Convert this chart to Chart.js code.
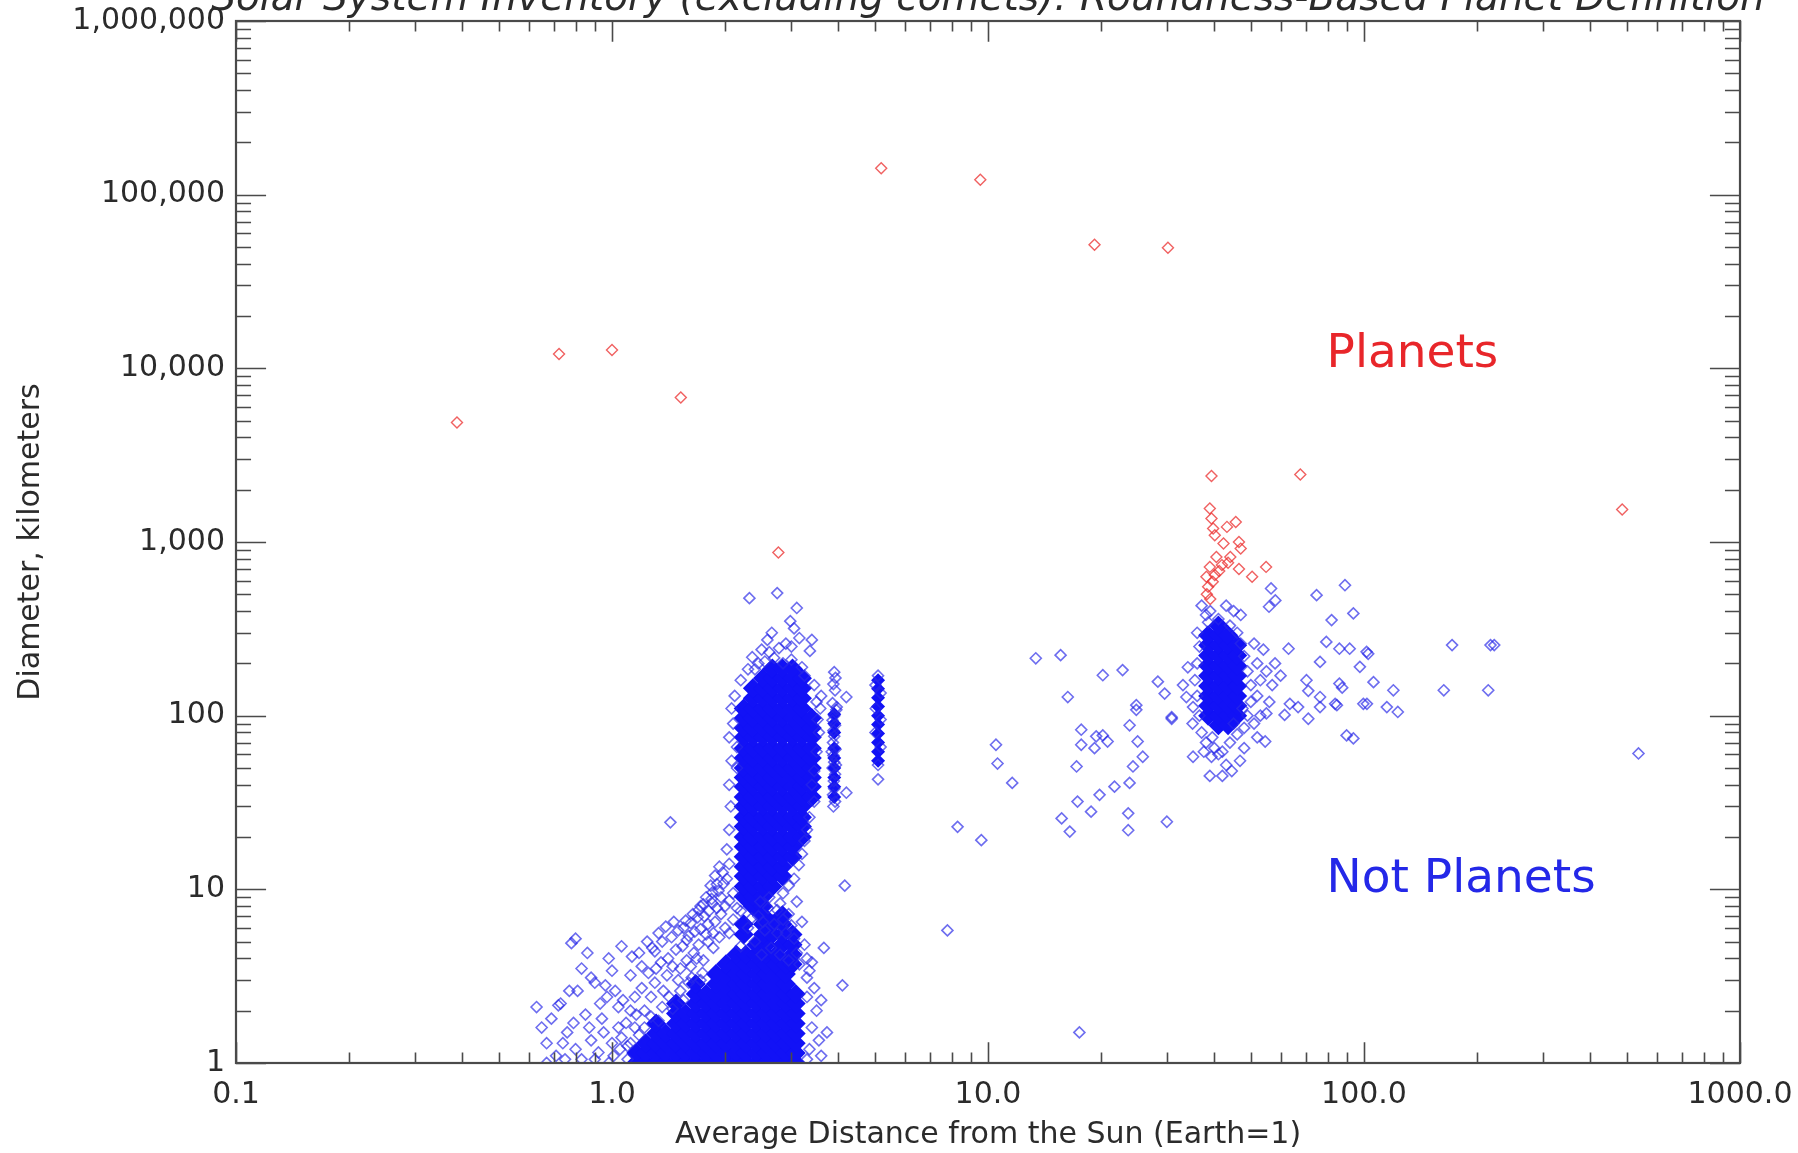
<!DOCTYPE html>
<html><head><meta charset="utf-8">
<script src="https://cdn.jsdelivr.net/npm/chart.js@4.4.1/dist/chart.umd.min.js"></script>
<style>html,body{margin:0;padding:0;background:#fff;}#wrap{width:1798px;height:1153px;}</style>
</head><body><div id="wrap"><canvas id="c" width="1798" height="1153"></canvas></div>
<script>
// ---------- tick values & labels ----------
const xTickValues = [0.1, 1, 10, 100, 1000];
const xTickLabels = ['0.1', '1.0', '10.0', '100.0', '1000.0'];
const yTickValues = [1, 10, 100, 1000, 10000, 100000, 1000000];
const yTickLabels = ['1', '10', '100', '1,000', '10,000', '100,000', '1,000,000'];
const chartTitle = 'Solar System Inventory (excluding comets): Roundness-Based Planet Definition';
const xTitle = 'Average Distance from the Sun (Earth=1)';
const yTitle = 'Diameter, kilometers';

// ---------- round objects ("Planets") [AU, km] ----------
const planets = [[0.387,4880],[0.723,12100],[1.0,12750],[1.524,6790],[2.77,870],[5.2,142000],[9.54,122000],
 [19.2,51500],[30.1,49500],[39.3,2400],[67.7,2450],[486,1540],
 [38.9,1560],[39.3,1365],[39.7,1196],[43.2,1222],[45.6,1304],[46.5,1000],[40.1,1094],[42.3,980],[47.0,916],
 [40.5,820],[44.1,820],[38.9,719],[41.9,736],[50.4,631],[54.9,719],[38.1,631],[38.5,552],[40.1,645],
 [39.6,590],[41.2,680],[43.5,760],[38.2,500],[39.0,470],[46.5,700]];

// ---------- non-round objects ("Not Planets") [AU, km] ----------
const innerScatter = [[0.63,2.1],[0.73,2.2],[0.72,2.15],[0.65,1.6],[0.67,1.3],[0.71,1.1],[0.78,4.9],[0.80,5.2],[0.98,4.0],[1.06,4.7],
 [0.81,2.6],[0.90,2.9],[0.96,2.8],[0.85,1.9],[0.87,1.6],[0.88,1.35],[1.04,2.1],[1.09,1.7],[1.20,3.6],[1.30,2.9],[1.41,4.0],
 [1.48,4.5],[1.54,4.7],[0.75,1.05],[0.80,1.2],[0.92,1.15],[0.95,1.5],[1.00,1.3],[1.02,2.6],[1.12,3.2],[1.15,2.4],[1.18,4.3],
 [1.25,3.3],[1.35,3.8],[1.10,1.25],[0.93,2.2],[0.83,3.5],[0.88,3.1],[1.00,3.4],[1.13,4.1],[1.22,2.0],[1.28,4.6],[1.60,5.4],
 [1.70,4.8],[1.45,3.6],[1.37,2.6],[1.50,3.0],[1.58,3.9],[1.65,4.3],[1.75,3.9],[1.80,5.0],[0.69,1.8],[0.76,1.5],[0.77,2.6],
 [0.86,4.3],[1.24,5.0],[1.33,5.6],[1.39,6.1],[1.46,6.5],[1.55,6.0],[1.62,6.4],[1.69,6.9],[1.81,7.5],[1.85,9.6],[1.90,10.7],
 [1.75,8.2],[1.95,9.0],[2.00,8.0],[1.90,7.8],[1.78,5.5],[2.00,6.0],[1.72,8.0],[1.78,9.0],[1.83,10.5],[1.88,12.0],[1.93,13.5],
 [1.97,12.5],[1.85,8.3],[1.43,24.3],[0.67,1.0],[0.83,1.05],[0.98,1.0],[0.90,1.05],[1.04,1.6],[1.16,1.9],[1.07,2.3],[1.20,2.7],
 [1.27,2.4],[1.31,3.5],[1.40,3.2],[1.52,3.5],[1.62,3.6],[1.68,4.0],[1.86,4.6],[1.93,5.3],[2.05,5.6],[1.58,5.1],[1.66,5.7],
 [1.30,4.4],[1.36,5.0],[1.44,5.3],[1.50,5.8],[1.57,6.6],[1.64,7.2],[1.70,7.6],[1.76,7.0],[1.84,8.8],[1.92,9.8],[1.98,10.8],
 [2.02,11.5],[1.88,6.5],[1.95,7.2],[2.05,8.6],[2.10,9.5],[1.72,5.9],[1.80,6.3],[1.86,5.6],[2.10,6.7],[2.15,7.8],[0.74,1.3],
 [0.79,1.7],[0.94,1.8],[1.01,1.1],[1.06,1.4],[0.97,2.4],[1.12,2.0],
 [1.10,1.05],[1.12,1.3],[1.18,1.45],[1.22,1.6],[1.27,1.85],[1.33,1.75],[1.36,2.1],[1.42,2.4],[1.45,2.05],[1.52,2.6],
 [1.55,2.3],[1.60,2.9],[1.63,3.1],[1.72,3.0],[1.74,3.3],[1.05,1.2],[1.15,1.6]];

const beltHalo = [[2.32,475],[2.75,508],[3.10,417],[3.05,318],[2.59,273],[3.40,273],[2.36,217],[2.62,232],[3.36,236],[2.45,200],
 [2.55,205],[2.70,215],[2.85,200],[3.00,210],[3.20,190],[2.90,260],[3.25,170],[2.50,240],[2.78,245],[3.00,250],[2.66,300],
 [3.15,280],[2.40,185],[2.98,350],[2.20,160],[2.30,185],[2.12,130],[2.08,110],[2.10,90],[2.05,75],[2.15,66],[2.08,55],[2.15,50],
 [2.05,40],[2.07,30],[2.05,22],[2.02,17],[2.05,14],[3.45,150],[3.50,120],[3.52,95],[3.55,80],[3.50,62],[3.45,48],[3.40,40],
 [3.45,32],[3.35,26],[3.30,22],[3.25,19],[3.20,16],[3.60,130],[3.58,110],[3.14,13.8],[3.05,11.5],[2.95,10.5],[2.85,9.5],
 [2.20,7.5],[2.45,7.0],[2.60,7.8],[2.95,7.2],[3.10,8.5],[3.20,6.5],[2.30,6.0],[2.55,5.8],[2.90,5.6],[3.05,5.2],[3.25,4.8],
 [2.40,5.0],[2.65,4.6],[2.80,4.2],[3.10,4.3],[3.30,4.0],[2.50,4.2],[2.20,4.7],[2.35,6.8],[3.00,6.2],[2.70,6.3],[3.15,3.7],
 [3.35,3.4],[2.95,3.9],[2.75,7.6],[2.85,6.7],[2.75,5.6],[2.52,6.5],[2.62,9.0],[2.48,8.5],[2.80,8.3],[3.66,4.6],[3.40,3.8],
 [3.30,3.1],[4.10,2.8],[3.73,1.5],[3.35,1.2],[3.40,1.6],[3.50,2.0],[3.30,2.4],[3.45,2.7],[3.60,1.1],[3.55,1.35],[3.30,1.05],[3.60,2.3]];

const hildaTrojans = [[3.90,178],[3.93,165],[3.88,152],[3.92,140],[3.86,118],[3.95,108],[3.90,100],[3.86,94],[3.92,88],[3.88,82],
 [3.90,76],[3.87,70],[3.93,64],[3.88,59],[3.90,54],[3.86,50],[3.92,46],[3.89,42],[3.90,38],[3.87,35],[3.92,32],[3.88,30],
 [4.20,128],[4.20,36],[3.96,112],[3.84,62],[3.94,52],
 [5.10,170],[5.02,150],[5.18,135],[5.03,110],[5.18,95],[5.02,80],[5.18,66],[5.10,52],[5.10,43]];

const centaurs = [[13.4,214],[15.6,223],[20.2,171],[22.8,183],[16.3,128],[24.8,115],[24.8,108],[23.8,88],[30.8,96],[17.7,83],
 [17.7,68],[19.4,76],[20.2,77],[20.8,71],[19.2,65],[25.0,71],[25.8,58],[24.3,51],[17.2,51],[10.5,68],[10.6,53],[11.6,41],
 [21.7,39],[23.8,41],[19.8,35],[17.3,32],[18.8,28],[15.7,25.6],[16.5,21.5],[23.6,27.4],[23.6,21.9],[29.9,24.5],[8.3,22.9],
 [9.6,19.2],[17.5,1.5],[7.8,5.8],[4.16,10.5]];

const kuiperHalo = [[28.3,157],[29.5,134],[30.8,98],[33.7,128],[35.1,112],[56.6,540],[58.1,461],[55.9,424],[74.8,494],[89,564],
 [93.7,388],[82,355],[79.4,266],[86,243],[91.6,243],[102.6,227],[97.5,191],[76.4,204],[106,156],[101.8,117],[84.7,115],
 [71.1,139],[63,243],[89.9,77],[93.7,74],[46.8,55],[54.6,71],[38.9,45],[171.5,255],[217,255],[222,255],[163,140],[214,140],
 [119.7,140],[99.6,117],[115,112],[123,105],[101.6,233],[83.8,117],[76.4,128],[70.3,160],[76.4,112],[71.1,96],[66.8,112],
 [63.5,117],[61.5,101],[55,103],[39.3,58],[35.1,58],[86,153],[87.5,145],[36,300],[36.5,250],[36,200],[35.5,160],[36,130],
 [36.5,100],[37,80],[38,70],[40,65],[42,62],[44,70],[46,78],[48,85],[49,100],[50,120],[50,150],[49,180],[48,220],[47,260],
 [46,300],[44,330],[41,360],[38.5,345],[52,130],[53,160],[52,200],[54,240],[51,260],[55,180],[57,150],[53,100],[56,120],
 [58,200],[60,170],[45,400],[43,430],[47,380],[39,400],[38,380],[37,430],[41,60],[43,52],[39.5,75],[45,90],[47.5,110],[51,90],
 [52,75],[48,65],[44.5,48],[42,45],[34,190],[33,150],[35,90],[37.5,62],[537,60.6]];

// dense cores, table of [distance, [diameters...]]
const beltCoreTable = [
 [2.24,[9.1,10.4,11.9,13.5,15.4,17.6,20,23,26,30,34,39,44,50,57,65,75,85,97,110]],
 [2.37,[8.0,9.1,10.4,11.9,13.5,15.4,17.6,20,23,26,30,34,39,44,50,57,65,75,85,97,110,126,144]],
 [2.52,[7.1,8.0,9.1,10.4,11.9,13.5,15.4,17.6,20,23,26,30,34,39,44,50,57,65,75,85,97,110,126,144,164]],
 [2.67,[10.4,11.9,13.5,15.4,17.6,20,23,26,30,34,39,44,50,57,65,75,85,97,110,126,144,164,187]],
 [2.84,[11.9,13.5,15.4,17.6,20,23,26,30,34,39,44,50,57,65,75,85,97,110,126,144,164,187]],
 [3.02,[15.4,17.6,20,23,26,30,34,39,44,50,57,65,75,85,97,110,126,144,164,187]],
 [3.20,[20,23,26,30,34,39,44,50,57,65,75,85,97,110,126,144,164]],
 [3.40,[34,39,44,50,57,65,75,85,97]]];
const beltTailTable = [
 [2.24,[5.5,6.3]],[2.52,[5.5,6.3]],[2.67,[5.5,6.3]],[2.84,[4.8,5.5,6.3,7.1]],[3.02,[3.7,4.2,4.8,5.5]]];
const nearCoreTable = [
 [1.16,[1.0,1.14]],[1.23,[1.0,1.14,1.3]],[1.31,[1.0,1.14,1.3,1.48,1.69]],[1.39,[1.0,1.14,1.3,1.48]],
 [1.48,[1.0,1.14,1.3,1.48,1.69,1.93,2.2]],[1.57,[1.0,1.14,1.3,1.48,1.69,1.93]],
 [1.67,[1.0,1.14,1.3,1.48,1.69,1.93,2.2,2.5,2.85]],[1.78,[1.0,1.14,1.3,1.48,1.69,1.93,2.2,2.5]],
 [1.89,[1.0,1.14,1.3,1.48,1.69,1.93,2.2,2.5,2.85,3.25]],[2.01,[1.0,1.14,1.3,1.48,1.69,1.93,2.2,2.5,2.85,3.25,3.7]],
 [2.14,[1.0,1.14,1.3,1.48,1.69,1.93,2.2,2.5,2.85,3.25,3.7,4.2]],[2.27,[1.0,1.14,1.3,1.48,1.69,1.93,2.2,2.5,2.85,3.25,3.7,4.2]],
 [2.42,[1.0,1.14,1.3,1.48,1.69,1.93,2.2,2.5,2.85,3.25,3.7,4.2,4.8]],[2.57,[1.0,1.14,1.3,1.48,1.69,1.93,2.2,2.5,2.85,3.25,3.7,4.2,4.8]],
 [2.73,[1.0,1.14,1.3,1.48,1.69,1.93,2.2,2.5,2.85,3.25,3.7,4.2]],[2.90,[1.0,1.14,1.3,1.48,1.69,1.93,2.2,2.5,2.85,3.25,3.7]],
 [3.08,[1.0,1.14,1.3,1.48,1.69,1.93,2.2,2.5]]];
const kuiperCoreTable = [
 [38.5,[100,114,130,148,170,194,222,254,290]],
 [41.0,[88,100,114,130,148,170,194,222,254,290,330]],
 [43.5,[88,100,114,130,148,170,194,222,254,290]],
 [46.0,[100,114,130,148,170,194,222,254]]];
const columnCoreTable = [
 [3.90,[34,39,44,50,57,65,80,90,102]],
 [5.10,[55,62,70,79,89,100,113,127,143,160]]];

const labels = [
 {text: 'Planets', dist: 79.5, diam: 10200, color: 'rgb(232,38,42)'},
 {text: 'Not Planets', dist: 79.5, diam: 9.6, color: 'rgb(36,40,232)'}];

// ---------- build ----------
const pairs = a => a.map(([x, y]) => ({x, y}));
const fromTable = t => t.flatMap(([x, ys]) => ys.map(y => ({x, y})));
const FONT = '"DejaVu Sans", "Liberation Sans", sans-serif';
const INK = '#2b2b2b';
const AXIS = '#4a4a4a';

const blueHollow = {pointStyle: 'rectRot', pointRadius: 5.5, borderWidth: 1.6,
  borderColor: 'rgba(40,40,232,0.68)', backgroundColor: 'rgba(0,0,0,0)', clip: 0};
const blueCore = {pointStyle: 'rectRot', pointRadius: 10, borderWidth: 0,
  borderColor: 'rgb(18,18,246)', backgroundColor: 'rgb(18,18,246)', clip: 0};
const blueColumn = {pointStyle: 'rectRot', pointRadius: 7, borderWidth: 0,
  borderColor: 'rgb(18,18,246)', backgroundColor: 'rgb(18,18,246)', clip: 0};

const frame = {
  id: 'frame',
  afterDatasetsDraw(chart) {
    const {ctx, chartArea: a, scales: {x, y}} = chart;
    ctx.save();
    ctx.strokeStyle = AXIS;
    ctx.lineWidth = 1.6;
    const h = a.bottom - a.top, w = a.right - a.left;
    const xMaj = 0.02 * h, yMaj = 0.02 * w;
    ctx.beginPath();
    xTickValues.forEach(d => {
      for (let m = 1; m <= 9; m++) {
        const v = d * m;
        if (v > x.max * 1.0001) break;
        const px = Math.round(x.getPixelForValue(v)) + 0.5;
        const L = m === 1 ? xMaj : xMaj / 2;
        ctx.moveTo(px, a.bottom); ctx.lineTo(px, a.bottom - L);
        ctx.moveTo(px, a.top); ctx.lineTo(px, a.top + L);
      }
    });
    yTickValues.forEach(d => {
      for (let m = 1; m <= 9; m++) {
        const v = d * m;
        if (v > y.max * 1.0001) break;
        const py = Math.round(y.getPixelForValue(v)) + 0.5;
        const L = m === 1 ? yMaj : yMaj / 2;
        ctx.moveTo(a.left, py); ctx.lineTo(a.left + L, py);
        ctx.moveTo(a.right, py); ctx.lineTo(a.right - L, py);
      }
    });
    ctx.stroke();
    ctx.lineWidth = 2.2;
    ctx.strokeRect(a.left, a.top, w, h);
    // title (cropped at top of picture, as in the original)
    ctx.fillStyle = INK;
    ctx.font = 'italic 39px ' + FONT;
    ctx.textAlign = 'center';
    ctx.textBaseline = 'alphabetic';
    ctx.fillText(chartTitle, (a.left + a.right) / 2, 10);
    // region labels
    ctx.textAlign = 'left';
    ctx.font = '47px ' + FONT;
    labels.forEach(l => {
      ctx.fillStyle = l.color;
      ctx.fillText(l.text, x.getPixelForValue(l.dist), y.getPixelForValue(l.diam));
    });
    ctx.restore();
  }
};

new Chart(document.getElementById('c'), {
  type: 'scatter',
  data: {datasets: [
    {label: 'Planets', data: pairs(planets), pointStyle: 'rectRot', pointRadius: 5.5, borderWidth: 1.4,
     borderColor: 'rgba(236,52,52,0.78)', backgroundColor: 'rgba(0,0,0,0)', clip: 0},
    Object.assign({label: 'Inner', data: pairs(innerScatter)}, blueHollow),
    Object.assign({label: 'Belt halo', data: pairs(beltHalo)}, blueHollow),
    Object.assign({label: 'Hilda/Trojan', data: pairs(hildaTrojans)}, blueHollow),
    Object.assign({label: 'Centaurs', data: pairs(centaurs)}, blueHollow),
    Object.assign({label: 'Kuiper halo', data: pairs(kuiperHalo)}, blueHollow),
    Object.assign({label: 'Belt core', data: fromTable(beltCoreTable)}, blueCore),
    Object.assign({label: 'Belt tail', data: fromTable(beltTailTable)}, blueCore),
    Object.assign({label: 'Near core', data: fromTable(nearCoreTable)}, blueCore),
    Object.assign({label: 'Kuiper core', data: fromTable(kuiperCoreTable)}, blueCore),
    Object.assign({label: 'Column cores', data: fromTable(columnCoreTable)}, blueColumn)
  ]},
  options: {
    responsive: false, animation: false, devicePixelRatio: 1,
    layout: {padding: {top: 21, right: 58, left: 0, bottom: 0}},
    plugins: {legend: {display: false}, tooltip: {enabled: false}, title: {display: false}},
    events: [],
    scales: {
      x: {type: 'logarithmic', min: 0.1, max: 1000, position: 'bottom',
        afterBuildTicks: s => { s.ticks = xTickValues.map(v => ({value: v})); },
        afterFit: s => { s.height = 90; s.paddingLeft = 0; s.paddingRight = 0; },
        ticks: {callback: (v, i) => xTickLabels[i], font: {family: FONT, size: 30}, color: INK,
                padding: 14, maxRotation: 0, autoSkip: false},
        grid: {display: false, drawTicks: false}, border: {display: false},
        title: {display: true, text: xTitle, font: {family: FONT, size: 30}, color: INK, padding: {top: 0, bottom: 0}}},
      y: {type: 'logarithmic', min: 1, max: 1000000, position: 'left',
        afterBuildTicks: s => { s.ticks = yTickValues.map(v => ({value: v})); },
        afterFit: s => { s.width = 236; s.paddingTop = 0; s.paddingBottom = 0; },
        ticks: {callback: (v, i) => yTickLabels[i], font: {family: FONT, size: 30}, color: INK,
                padding: 11, autoSkip: false},
        grid: {display: false, drawTicks: false}, border: {display: false},
        title: {display: true, text: yTitle, font: {family: FONT, size: 30}, color: INK, padding: {top: 13, bottom: 0}}}
    }
  },
  plugins: [frame]
});
</script></body></html>
